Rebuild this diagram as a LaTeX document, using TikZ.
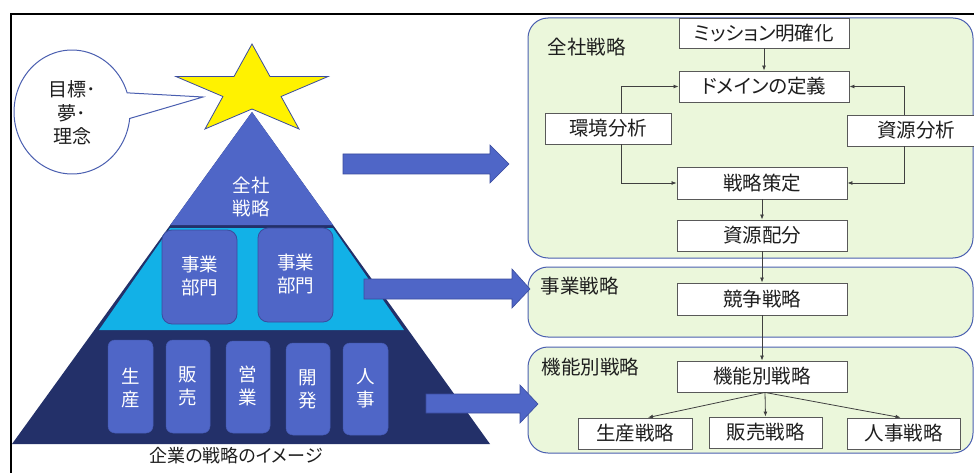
\documentclass[tikz,border=0pt]{standalone}
\usepackage{fontspec}
\setmainfont[RawFeature=+palt]{Noto Sans CJK JP}
\usetikzlibrary{arrows.meta,calc}
\definecolor{mblue}{HTML}{4F66C7}
\definecolor{mbluedk}{HTML}{3A4C9E}
\definecolor{navy}{HTML}{233069}
\definecolor{lblue}{HTML}{12B1E7}
\definecolor{pgreen}{HTML}{EBF7DB}
\definecolor{pborder}{HTML}{4A5FB0}
\definecolor{boxline}{HTML}{595959}
\definecolor{txt}{HTML}{1E1E1E}
\begin{document}
\begin{tikzpicture}[x=1pt,y=-1pt,
  jp/.style={font=\fontsize{19.5}{24}\selectfont, text=txt},
  wtxt/.style={font=\fontsize{18.5}{23}\selectfont, text=white, align=center},
  wbox/.style={draw=boxline, line width=0.9pt, fill=white, inner sep=0pt, jp},
  conn/.style={draw=txt!85, line width=0.8pt, -{Latex[length=5pt,width=4pt]}},
  panel/.style={draw=pborder, line width=1pt, fill=pgreen, rounded corners=20pt},
  bigarrow/.style={fill=mblue, draw=mbluedk, line width=0.6pt},
  deptbox/.style={fill=mblue, draw=mbluedk, line width=0.8pt, rounded corners=10pt},
  funcbox/.style={fill=mblue, draw=mblue!80!navy, line width=0.5pt, rounded corners=7pt}]
\useasboundingbox (0,0) rectangle (974,473);
\clip (0,0) rectangle (974,473);
\fill[white] (0,0) rectangle (974,473);
% frame
\draw[black, line width=2pt] (11,14) rectangle (1000,500);

% callout
\draw[pborder, line width=1pt, fill=white] (203,97) -- plot[domain=6:342, samples=90] ({72+58*cos(\x)},{112+62*sin(\x)}) -- cycle;
\node[font=\fontsize{19}{23.5}\selectfont, text=txt, align=center] (goal) at (72,113) {目標･\\夢･\\理念};

% star
\draw[fill=yellow, draw=mbluedk, line width=0.8pt, line join=miter]
  (252,44) -- (270,76.5) -- (328.1,76.5) -- (281.1,96.5) -- (299,129) -- (252,109)
  -- (205,129) -- (222.9,96.5) -- (175.9,76.5) -- (234,76.5) -- cycle;

% pyramid
\fill[navy] (12,444) -- (252,112) -- (490,444) -- cycle;
\fill[mblue] (252,112) -- (333,225) -- (170.3,225) -- cycle;
\fill[lblue] (170,228) -- (333,228) -- (404,330) -- (99,330) -- cycle;
\node[wtxt] (zensha) at (251,197) {全社\\戦略};

\draw[deptbox] (162,230) rectangle (237,324);
\node[wtxt] (dept1) at (199.5,276) {事業\\部門};
\draw[deptbox] (258,228) rectangle (333,322);
\node[wtxt] (dept2) at (295.5,274) {事業\\部門};

\draw[funcbox] (108,340) rectangle (153,433);
\node[wtxt] (f1) at (130.5,388) {生\\産};
\draw[funcbox] (166,340) rectangle (210,433);
\node[wtxt] (f2) at (188,386) {販\\売};
\draw[funcbox] (226,341) rectangle (270,433);
\node[wtxt] (f3) at (248,386) {営\\業};
\draw[funcbox] (286,343) rectangle (330,435);
\node[wtxt] (f4) at (308,389) {開\\発};
\draw[funcbox] (343,343) rectangle (388,435);
\node[wtxt] (f5) at (365.5,388) {人\\事};

\node[font=\fontsize{18}{20}\selectfont, text=txt] (caption) at (236,456) {企業の戦略のイメージ};

% panels
\draw[panel] (528,18) rectangle (973,258);
\draw[panel] (528,267) rectangle (973,337);
\draw[panel] (528,347) rectangle (973,453);
\node[jp, anchor=west] (p1) at (544,47) {全社戦略};
\node[jp, anchor=west] (p2) at (537,286) {事業戦略};
\node[jp, anchor=west] (p3) at (538,367) {機能別戦略};

% block arrows
\draw[bigarrow] (343,154) -- (490,154) -- (490,145) -- (509,164) -- (490,183) -- (490,174) -- (343,174) -- cycle;
\draw[bigarrow] (364,279) -- (512,279) -- (512,269) -- (530,289) -- (512,308) -- (512,299) -- (364,299) -- cycle;
\draw[bigarrow] (426,394) -- (520,394) -- (520,385) -- (538,404) -- (520,423) -- (520,413) -- (426,413) -- cycle;

% flow boxes
\node[wbox, minimum width=170pt, minimum height=30pt] (mission) at (764,33) {ミッション明確化};
\node[wbox, minimum width=170pt, minimum height=31pt] (domain) at (764,86.5) {ドメインの定義};
\node[wbox, minimum width=126pt, minimum height=31pt] (env) at (608,128.5) {環境分析};
\node[wbox, minimum width=138pt, minimum height=31pt] (res) at (916,130.5) {資源分析};
\node[wbox, minimum width=170pt, minimum height=32pt] (strat) at (762,183) {戦略策定};
\node[wbox, minimum width=170pt, minimum height=31pt] (alloc) at (762,235.5) {資源配分};
\node[wbox, minimum width=170pt, minimum height=32pt] (comp) at (762,299) {競争戦略};
\node[wbox, minimum width=170pt, minimum height=31pt] (func) at (762,376.5) {機能別戦略};
\node[wbox, minimum width=114pt, minimum height=31pt] (prod) at (635,433.5) {生産戦略};
\node[wbox, minimum width=113pt, minimum height=31pt] (sales) at (765.5,432.5) {販売戦略};
\node[wbox, minimum width=113pt, minimum height=31pt] (hr) at (903.5,433.5) {人事戦略};

% connectors
\draw[conn] (mission.south) -- (domain.north);
\draw[conn] ([xshift=13pt]env.north) |- (domain.west);
\draw[conn] ([xshift=13pt]env.south) |- (strat.west);
\draw[conn] ([xshift=-12pt]res.north) |- (domain.east);
\draw[conn] ([xshift=-12pt]res.south) |- (strat.east);
\draw[conn] (strat.south) -- (alloc.north);
\draw[conn] (alloc.south) -- (comp.north);
\draw[conn] (comp.south) -- (func.north);
\draw[conn] ([xshift=3pt]func.south) -- ([xshift=13pt]prod.north);
\draw[conn] ([xshift=3pt]func.south) -- (sales.north);
\draw[conn] ([xshift=3pt]func.south) -- ([xshift=-3pt]hr.north);
\end{tikzpicture}
\end{document}
